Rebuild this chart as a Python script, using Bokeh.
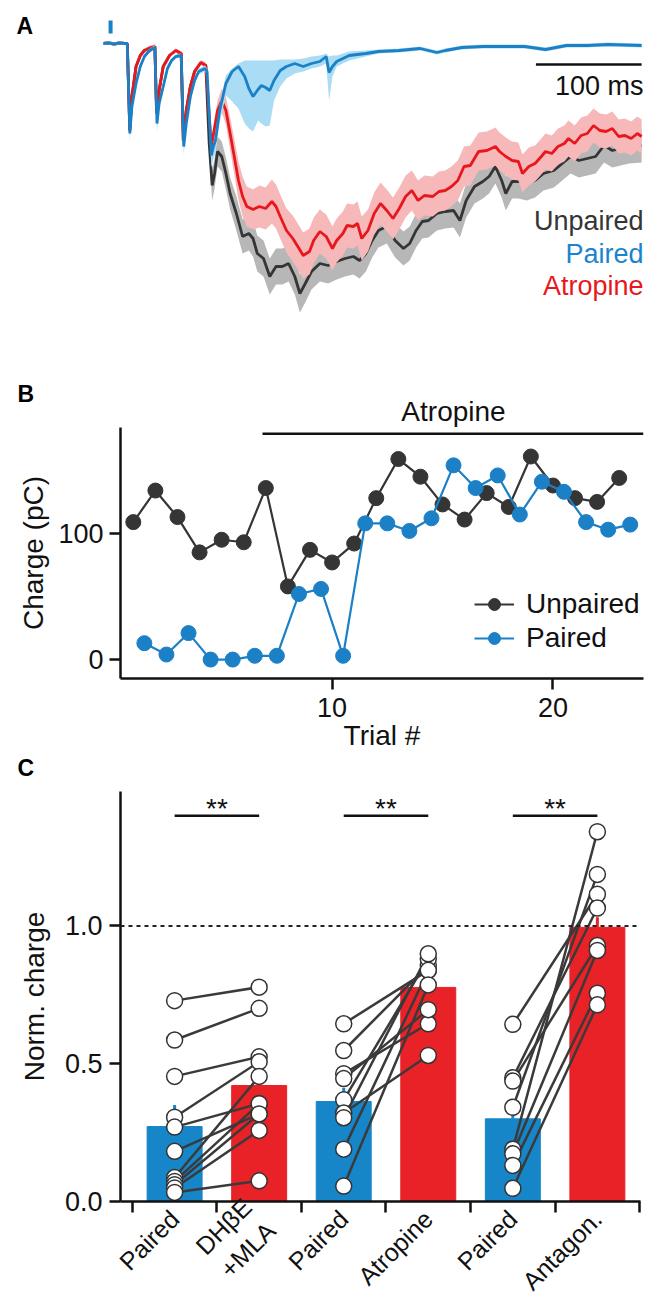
import math
from bokeh.plotting import figure
from bokeh.layouts import column
from bokeh.models import (FixedTicker, Range1d, Legend, LegendItem, Span, NumeralTickFormatter)
from bokeh.embed import file_html
from bokeh.resources import INLINE
from bokeh.core.properties import value

FONT = "Liberation Sans"

# ---------------- Panel A data (time in ms, current in arbitrary units, 0 = baseline)
paired_t = [0, 5, 10, 15, 20, 22.5, 24.9, 26.9, 30.8, 34.8, 38.7, 42.7, 46.6, 48.6, 50.6,
            52.6, 56.5, 60.5, 64.4, 68.4, 73.5, 75.9, 78.3, 82.2, 86.2, 90.1, 96.0, 98.0,
            102.0, 104.0, 105.9, 109.9, 115.8, 121.7, 127.7, 133.6, 137.5, 141.5, 146.2,
            149.4, 153.4, 157.3, 161.3, 167.2, 173.1, 181.0, 188.9, 196.8, 204.7, 210.7,
            213.4, 216.6, 220.6, 232.4, 248.2, 260.1, 279.8, 299.6, 315.4, 323.3, 339.1,
            358.9, 378.7, 398.4, 418.2, 438.0, 457.7, 477.5, 509.1]
paired_mean = [0, 0.5, -0.5, 0.5, 0, 0, -90, -63, -40, -23, -13, -8, -5, -4, -80,
               -60, -43, -25, -17, -13, -12, -103, -80, -53, -37, -28, -25, -28,
               -112, -103, -97, -67, -40, -28, -23, -33, -45, -53, -46,
               -42, -44, -47, -37, -27, -23, -20, -23, -20, -18, -13,
               -29, -23, -18, -12, -10, -8, -7, -5, -9, -7, -4,
               -3, -3, -3, -6, -2, -2, -1, -2]
paired_err_down = [1.5, 1.5, 1.5, 1.5, 1.5, 1.5, 8, 5, 4, 3, 2, 2, 2, 2, 8,
                   6, 5, 3, 2, 2, 2, 8, 6, 5, 4, 3, 3, 4,
                   12, 12, 12, 12, 12, 30, 42, 47, 40, 35, 31,
                   38, 39, 35, 20, 16, 12, 10, 5, 5, 5, 7,
                   28, 10, 5, 5, 3, 2, 2, 2, 2, 2, 2,
                   2, 2, 2, 2, 2, 2, 2, 2]
paired_err_up = [1.5, 1.5, 1.5, 1.5, 1.5, 1.5, 3, 3, 3, 3, 2, 2, 2, 2, 3,
                 3, 3, 3, 2, 2, 2, 3, 3, 3, 3, 3, 3, 3,
                 3, 4, 5, 6, 8, 3, 3, 16, 28, 36, 29,
                 25, 27, 30, 20, 11, 7, 4, 8, 7, 6, 3,
                 16, 11, 6, 4, 3, 2, 2, 2, 2, 2, 2,
                 2, 2, 2, 2, 2, 2, 2, 2]

atropine_t = [0, 5, 10, 15, 20, 22.5, 24.9, 26.9, 30.8, 34.8, 38.7, 44.7, 48.6, 50.2, 52.6,
              56.5, 62.5, 68.4, 73.5, 75.5, 78.3, 82.2, 86.2, 92.1, 96.8, 102.0, 107.9,
              111.9, 115.8, 119.8, 123.7, 127.7, 131.6, 135.6, 141.5, 147.4, 153.4, 159.3,
              163.2, 167.2, 173.1, 179.1, 185.0, 188.9, 194.9, 198.8, 204.7, 210.7, 216.6,
              220.6, 226.5, 230.4, 236.4, 240.3, 244.3, 250.2, 256.1, 262.1, 268.0, 273.9,
              279.8, 285.8, 291.7, 297.6, 303.6, 311.5, 317.4, 323.3, 329.2, 335.2, 341.1,
              347.0, 354.9, 362.8, 370.8, 374.7, 380.6, 386.6, 392.5, 396.4, 402.4, 408.3,
              414.2, 418.2, 424.1, 430.0, 436.0, 439.9, 445.8, 451.8, 457.7, 463.6, 469.6,
              475.5, 481.4, 487.4, 493.3, 499.2, 505.1, 509.1]
atropine_mean = [0, 0.5, -0.5, 0.5, 0, 0, -87, -53, -23, -12, -7, -4, -3, -70, -47,
                 -23, -12, -7, -10, -97, -67, -43, -28, -19, -22, -103, -67,
                 -57, -67, -90, -113, -137, -153, -163, -166, -163, -165, -158,
                 -163, -173, -187, -195, -205, -212, -208, -197, -188, -193, -205,
                 -197, -190, -182, -183, -180, -195, -187, -170, -160, -167, -175,
                 -165, -153, -147, -157, -152, -153, -148, -147, -143, -137, -123,
                 -122, -108, -107, -103, -108, -113, -117, -118, -130, -123, -120,
                 -113, -108, -110, -103, -100, -95, -100, -92, -90, -82, -87,
                 -88, -85, -93, -92, -95, -90, -93]
atropine_sem = [1.5, 1.5, 1.5, 1.5, 1.5, 1.5, 5, 4, 3, 2, 2, 2, 2, 5, 4,
                3, 2, 2, 2, 5, 4, 3, 3, 2, 3, 8, 10,
                12, 14, 16, 18, 19, 20, 20, 20, 21, 21, 22,
                22, 22, 22, 23, 23, 23, 23, 23, 22, 22, 22,
                22, 22, 22, 22, 22, 22, 21, 21, 21, 21, 21,
                21, 21, 20, 20, 20, 20, 20, 20, 20, 20, 20,
                20, 19, 19, 19, 19, 19, 19, 19, 19, 19, 18,
                18, 18, 18, 18, 18, 18, 18, 18, 18, 17, 17,
                17, 17, 17, 17, 17, 17, 17]

unpaired_t = [0, 5, 10, 15, 20, 22.5, 24.9, 26.9, 30.8, 34.8, 38.7, 44.7, 48.6, 50.2, 52.6,
              56.5, 62.5, 68.4, 73.5, 75.5, 78.3, 82.2, 86.2, 92.1, 96.8, 100.0, 102.8,
              105.1, 107.9, 111.9, 115.8, 119.8, 125.7, 131.6, 137.5, 141.5, 145.5, 151.4,
              157.3, 163.2, 169.2, 175.1, 181.0, 185.8, 190.9, 196.8, 204.7, 212.6, 220.6,
              228.5, 236.4, 242.3, 248.2, 254.2, 260.1, 268.0, 275.9, 283.8, 289.7, 295.7,
              301.6, 307.5, 315.4, 323.3, 331.2, 337.2, 343.1, 351.0, 358.9, 364.8, 370.8,
              376.7, 380.6, 386.6, 392.5, 400.4, 408.3, 416.2, 426.1, 434.0, 441.9, 449.8,
              457.7, 465.6, 473.5, 481.4, 489.3, 497.2, 509.1]
unpaired_mean = [0, 0.5, -0.5, 0.5, 0, 0, -87, -53, -23, -12, -7, -4, -3, -70, -47,
                 -23, -12, -7, -10, -97, -67, -43, -28, -19, -22, -100, -142,
                 -130, -108, -113, -130, -150, -170, -193, -190, -195, -210, -215,
                 -233, -223, -223, -220, -233, -250, -240, -228, -220, -222, -218,
                 -215, -213, -217, -210, -197, -187, -183, -197, -205, -200, -187,
                 -178, -177, -170, -168, -167, -177, -157, -143, -138, -133, -123,
                 -137, -150, -138, -138, -140, -137, -130, -127, -120, -113, -117,
                 -115, -113, -102, -107, -105, -103, -102]
unpaired_sem = [1.5, 1.5, 1.5, 1.5, 1.5, 1.5, 5, 4, 3, 2, 2, 2, 2, 5, 4,
                3, 2, 2, 2, 5, 4, 3, 3, 2, 3, 10, 15,
                15, 15, 15, 16, 16, 17, 17, 17, 18, 18, 18,
                18, 18, 18, 18, 18, 19, 19, 18, 18, 18, 18,
                18, 18, 18, 18, 17, 17, 17, 17, 17, 17, 17,
                17, 17, 17, 17, 17, 17, 17, 17, 17, 17, 17,
                17, 17, 17, 17, 17, 17, 17, 17, 17, 17, 17,
                17, 17, 17, 17, 17, 17, 17]

stim_ms = [6.7]
scale_bar_ms = 100
trace_labels = ["Unpaired", "Paired", "Atropine"]

# ---------------- Panel B data
unpaired_trial = list(range(1, 24))
unpaired_charge = [109, 134, 113, 85, 95, 93, 136, 58, 87, 77, 92, 128, 159, 145, 123,
                   111, 132, 121, 161, 138, 128, 125, 144]
paired_trial = [k + 0.5 for k in range(1, 24)]
paired_charge = [13, 4, 21, 0, 0, 3, 3, 52, 56, 3, 108, 108, 102, 112, 154,
                 136, 146, 115, 141, 133, 109, 103, 107]
atropine_from_trial = 6.85

# ---------------- Panel C data
c_labels = ["Paired", "DHβE\n+MLA", "Paired", "Atropine", "Paired", "Antagon."]
c_means = [0.272, 0.421, 0.363, 0.777, 0.300, 0.995]
c_sem = [0.078, 0.06, 0.05, 0.04, 0.069, 0.037]
dh_before = [0.729, 0.586, 0.454, 0.306, 0.270, 0.182, 0.087, 0.073, 0.061, 0.049, 0.033]
dh_after = [0.778, 0.701, 0.525, 0.507, 0.355, 0.318, 0.454, 0.355, 0.318, 0.258, 0.075]
atr_before = [0.645, 0.548, 0.464, 0.446, 0.369, 0.321, 0.304, 0.190, 0.056]
atr_after = [0.839, 0.857, 0.645, 0.696, 0.881, 0.530, 0.899, 0.839, 0.786]
ant_before = [0.643, 0.449, 0.437, 0.342, 0.190, 0.173, 0.131, 0.048]
ant_after = [1.115, 1.065, 0.929, 1.187, 1.342, 0.911, 0.756, 0.714]
sig_text = ["**", "**", "**"]

# ---------------- colours
BLUE = "#1b80c6"
LBLUE = "#aadcf5"
RED = "#e8171e"
PINK = "#f6b8b8"
DARK = "#353535"
GREY = "#b7b7b7"
BAR_BLUE = "#1686c9"
BAR_RED = "#e92228"
AX = "#111111"

TICK_FS = "27px"
LAB_FS = "28px"


def no_align(p):
    try:
        p.frame_align = False
    except Exception:
        pass


def style_axes(p):
    for ax in p.axis:
        ax.axis_line_width = 2.5
        ax.axis_line_color = AX
        ax.major_tick_line_width = 2.5
        ax.major_tick_line_color = AX
        ax.major_tick_out = 11
        ax.major_tick_in = 0
        ax.minor_tick_line_color = None
        ax.major_label_text_font = FONT
        ax.major_label_text_font_size = TICK_FS
        ax.major_label_text_color = AX
        ax.axis_label_text_font = FONT
        ax.axis_label_text_font_size = LAB_FS
        ax.axis_label_text_font_style = "normal"
        ax.axis_label_text_color = AX
        ax.major_label_standoff = 6


def px_to_ms(px):
    return (px - 103) / 1.057


def txt(p, x, y, s, size, color=AX, align="left", bold=False):
    p.text(x=x, y=y, text=s, text_align=align, text_baseline="middle",
           text_font=value(FONT), text_font_size=size, text_color=color,
           text_font_style="bold" if bold else "normal")


# ================= Panel A (also hosts the "B" letter and the "Atropine" heading)
pA = figure(width=659, height=427, x_range=Range1d(px_to_ms(0), px_to_ms(659)),
            y_range=Range1d(43 - 427, 43),
            x_axis_location=None, y_axis_location=None, toolbar_location=None,
            output_backend="svg", min_border=0, outline_line_color=None)
no_align(pA)
pA.grid.visible = False

pA.varea(x=unpaired_t, y1=[m - s for m, s in zip(unpaired_mean, unpaired_sem)],
         y2=[m + s for m, s in zip(unpaired_mean, unpaired_sem)], fill_color=GREY)
pA.line(unpaired_t, unpaired_mean, line_color=DARK, line_width=2.8)
pA.varea(x=atropine_t, y1=[m - s for m, s in zip(atropine_mean, atropine_sem)],
         y2=[m + s for m, s in zip(atropine_mean, atropine_sem)], fill_color=PINK)
pA.line(atropine_t, atropine_mean, line_color=RED, line_width=2.8)
pA.varea(x=paired_t, y1=[m - s for m, s in zip(paired_mean, paired_err_down)],
         y2=[m + s for m, s in zip(paired_mean, paired_err_up)], fill_color=LBLUE)
pA.line(paired_t, paired_mean, line_color=BLUE, line_width=2.8)

# stimulus marker
pA.segment(x0=stim_ms, y0=[10], x1=stim_ms, y1=[23], line_color=BLUE, line_width=4)
# scale bar
t_end = paired_t[-1]
pA.segment(x0=[t_end - scale_bar_ms], y0=[-21], x1=[t_end], y1=[-21], line_color=AX, line_width=2.5)
txt(pA, [px_to_ms(643)], [-42], ["%d ms" % scale_bar_ms], "27px", align="right")
txt(pA, [px_to_ms(643)] * 3, [-177, -210, -242], trace_labels, "27px",
    color=[DARK, "#1a84cf", RED], align="right")
txt(pA, [px_to_ms(16), px_to_ms(17)], [18, -350], ["A", "B"], "23px", color="#000", bold=True)
txt(pA, [px_to_ms(453)], [-368], ["Atropine"], LAB_FS, align="center")

# ================= Panel B
pB = figure(width=659, height=328, x_range=Range1d(0.42, 24.1), y_range=Range1d(-15, 184),
            toolbar_location=None, output_backend="svg", min_border_left=120,
            min_border_right=16, min_border_top=0, min_border_bottom=77,
            outline_line_color=None)
no_align(pB)
pB.grid.visible = False
pB.xaxis.ticker = FixedTicker(ticks=[10, 20])
pB.yaxis.ticker = FixedTicker(ticks=[0, 100])
pB.xaxis.axis_label = "Trial #"
pB.yaxis.axis_label = "Charge (pC)"
style_axes(pB)
pB.xaxis.major_label_standoff = 8
pB.xaxis.axis_label_standoff = 0
pB.yaxis.axis_label_standoff = 6

l1 = pB.line(unpaired_trial, unpaired_charge, line_color=DARK, line_width=2.2)
s1 = pB.scatter(unpaired_trial, unpaired_charge, size=15, fill_color=DARK, line_color=DARK)
l2 = pB.line(paired_trial, paired_charge, line_color=BLUE, line_width=2.2)
s2 = pB.scatter(paired_trial, paired_charge, size=15, fill_color=BLUE, line_color=BLUE)
pB.segment(x0=[atropine_from_trial], y0=[179], x1=[24.1], y1=[179], line_color=AX, line_width=2.5)
leg = Legend(items=[LegendItem(label="Unpaired", renderers=[l1, s1]),
                    LegendItem(label="Paired", renderers=[l2, s2])],
             location=(354, 24), background_fill_alpha=0, border_line_color=None,
             label_text_font=FONT, label_text_font_size=LAB_FS, label_text_color=AX,
             glyph_width=40, glyph_height=30, label_height=30, spacing=2, padding=0,
             margin=0, label_standoff=12)
pB.add_layout(leg)

# ================= strip holding the "C" letter
pL = figure(width=659, height=36, x_range=Range1d(0, 659), y_range=Range1d(0, 36),
            x_axis_location=None, y_axis_location=None, toolbar_location=None,
            output_backend="svg", min_border=0, outline_line_color=None)
no_align(pL)
pL.grid.visible = False
txt(pL, [17], [24], ["C"], "23px", color="#000", bold=True)

# ================= Panel C
pC = figure(width=659, height=517, x_range=Range1d(0.36, 6.51), y_range=Range1d(0, 1.488),
            toolbar_location=None, output_backend="svg", min_border_left=120,
            min_border_right=19, min_border_top=0, min_border_bottom=93,
            outline_line_color=None)
no_align(pC)
pC.grid.visible = False
xs_c = [1, 2, 3, 4, 5, 6]
pC.xaxis.ticker = FixedTicker(ticks=xs_c, minor_ticks=[0.5, 1.5, 2.5, 3.5, 4.5, 5.5, 6.5])
pC.xaxis.major_label_overrides = {k: lab for k, lab in zip(xs_c, c_labels)}
pC.yaxis.ticker = FixedTicker(ticks=[0, 0.5, 1.0])
pC.yaxis.formatter = NumeralTickFormatter(format="0.0")
pC.yaxis.axis_label = "Norm. charge"
style_axes(pC)
pC.yaxis.major_label_standoff = 7
pC.yaxis.axis_label_standoff = 12
pC.xaxis.major_tick_out = 0
pC.xaxis.minor_tick_out = 11
pC.xaxis.minor_tick_in = 0
pC.xaxis.minor_tick_line_color = AX
pC.xaxis.minor_tick_line_width = 2.5
pC.xaxis.major_label_orientation = math.pi / 4
pC.xaxis.major_label_standoff = 2
pC.xaxis.major_label_text_font_size = "25px"

bar_colors = [BAR_BLUE, BAR_RED] * 3
pC.vbar(x=xs_c, top=c_means, width=0.65, fill_color=bar_colors, line_color=bar_colors)
pC.segment(x0=xs_c, y0=c_means, x1=xs_c, y1=[m + s for m, s in zip(c_means, c_sem)],
           line_color=bar_colors, line_width=3)
pC.add_layout(Span(location=1.0, dimension="width", line_color="#222222", line_width=2,
                   line_dash="4 4"))

pairs_xs, pairs_ys, pts_x, pts_y = [], [], [], []
for (xa, xb), before, after in [((1, 2), dh_before, dh_after), ((3, 4), atr_before, atr_after),
                                ((5, 6), ant_before, ant_after)]:
    for b, a in zip(before, after):
        pairs_xs.append([xa, xb])
        pairs_ys.append([b, a])
        pts_x += [xa, xb]
        pts_y += [b, a]
pC.multi_line(xs=pairs_xs, ys=pairs_ys, line_color="#3a3a3a", line_width=2.5)
pC.scatter(pts_x, pts_y, size=16, fill_color="white", line_color="#333333", line_width=1.5)

pC.segment(x0=[1, 3, 5], y0=[1.40] * 3, x1=[2, 4, 6], y1=[1.40] * 3, line_color=AX, line_width=2.5)
txt(pC, [1.5, 3.5, 5.5], [1.425] * 3, sig_text, "28px", align="center")

layout = column(pA, pB, pL, pC, spacing=0)
open("out.html", "w").write(file_html(layout, INLINE))
